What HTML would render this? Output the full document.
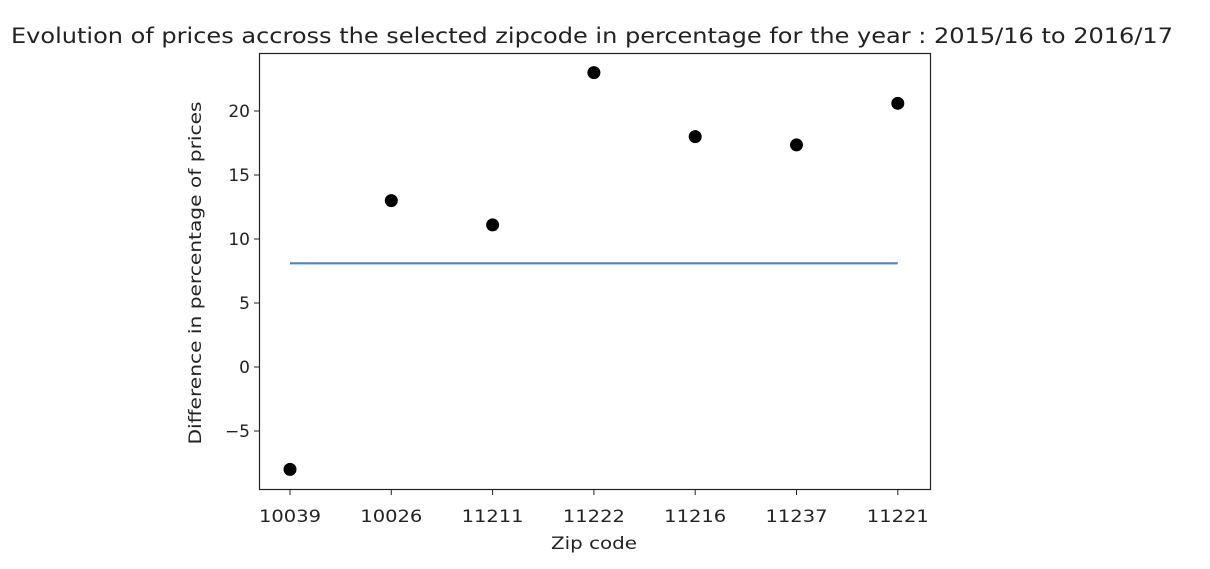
<!DOCTYPE html>
<html><head><meta charset="utf-8"><style>
body{margin:0;background:#fff;width:1210px;height:564px;overflow:hidden}
text{font-family:"DejaVu Sans","Liberation Sans",sans-serif;fill:#222}
</style></head><body>
<svg id="chart" width="1210" height="564">
<text x="592" y="43" font-size="21" text-anchor="middle" textLength="1162" lengthAdjust="spacingAndGlyphs">Evolution of prices accross the selected zipcode in percentage for the year : 2015/16 to 2016/17</text>
<g id="plot"></g>
<rect x="259.5" y="53.5" width="671" height="436" fill="none" stroke="#222" stroke-width="1.2"/>
<text x="594" y="549" font-size="17" text-anchor="middle" textLength="86" lengthAdjust="spacingAndGlyphs">Zip code</text>
<text transform="translate(201,273) rotate(-90)" font-size="17" text-anchor="middle" textLength="343" lengthAdjust="spacingAndGlyphs">Difference in percentage of prices</text>
</svg>
<script>
const categories=["10039","10026","11211","11222","11216","11237","11221"];
const values=[-8.0,13.0,11.1,23.0,18.0,17.35,20.6];
const meanValue=[8.1];
const yTicks=[-5,0,5,10,15,20];
const yTickLabels=["\u22125","0","5","10","15","20"];
const NS="http://www.w3.org/2000/svg";
const g=document.getElementById('plot');
function xs(i){return 290+i*101.3;}
function ys(v){return 367-v*12.8;}
function mk(t,a){const e=document.createElementNS(NS,t);for(const k in a)e.setAttribute(k,a[k]);g.appendChild(e);return e;}
yTicks.forEach((v,i)=>{
 const l=mk('line',{x1:254,x2:259.5,y1:ys(v),y2:ys(v),stroke:'#222'});
 
 
 const t=mk('text',{x:250,y:ys(v)+6,'font-size':17,'text-anchor':'end'});t.textContent=yTickLabels[i];
 
 
});
categories.forEach((c,i)=>{
 const l=mk('line',{x1:xs(i),x2:xs(i),y1:489.5,y2:495,stroke:'#222'});
 
 
 const t=mk('text',{x:xs(i),y:522,'font-size':17,'text-anchor':'middle',textLength:62,lengthAdjust:'spacingAndGlyphs'});t.textContent=c;
 
 
});
const ml=mk('line',{x1:xs(0),x2:xs(categories.length-1),y1:ys(meanValue[0]),y2:ys(meanValue[0]),stroke:'#4c84c4','stroke-width':2.2});


values.forEach((v,i)=>{
 const p=mk('circle',{cx:xs(i),cy:ys(v),r:6.5,fill:'#000'});
 
 
});
</script>
</body></html>
